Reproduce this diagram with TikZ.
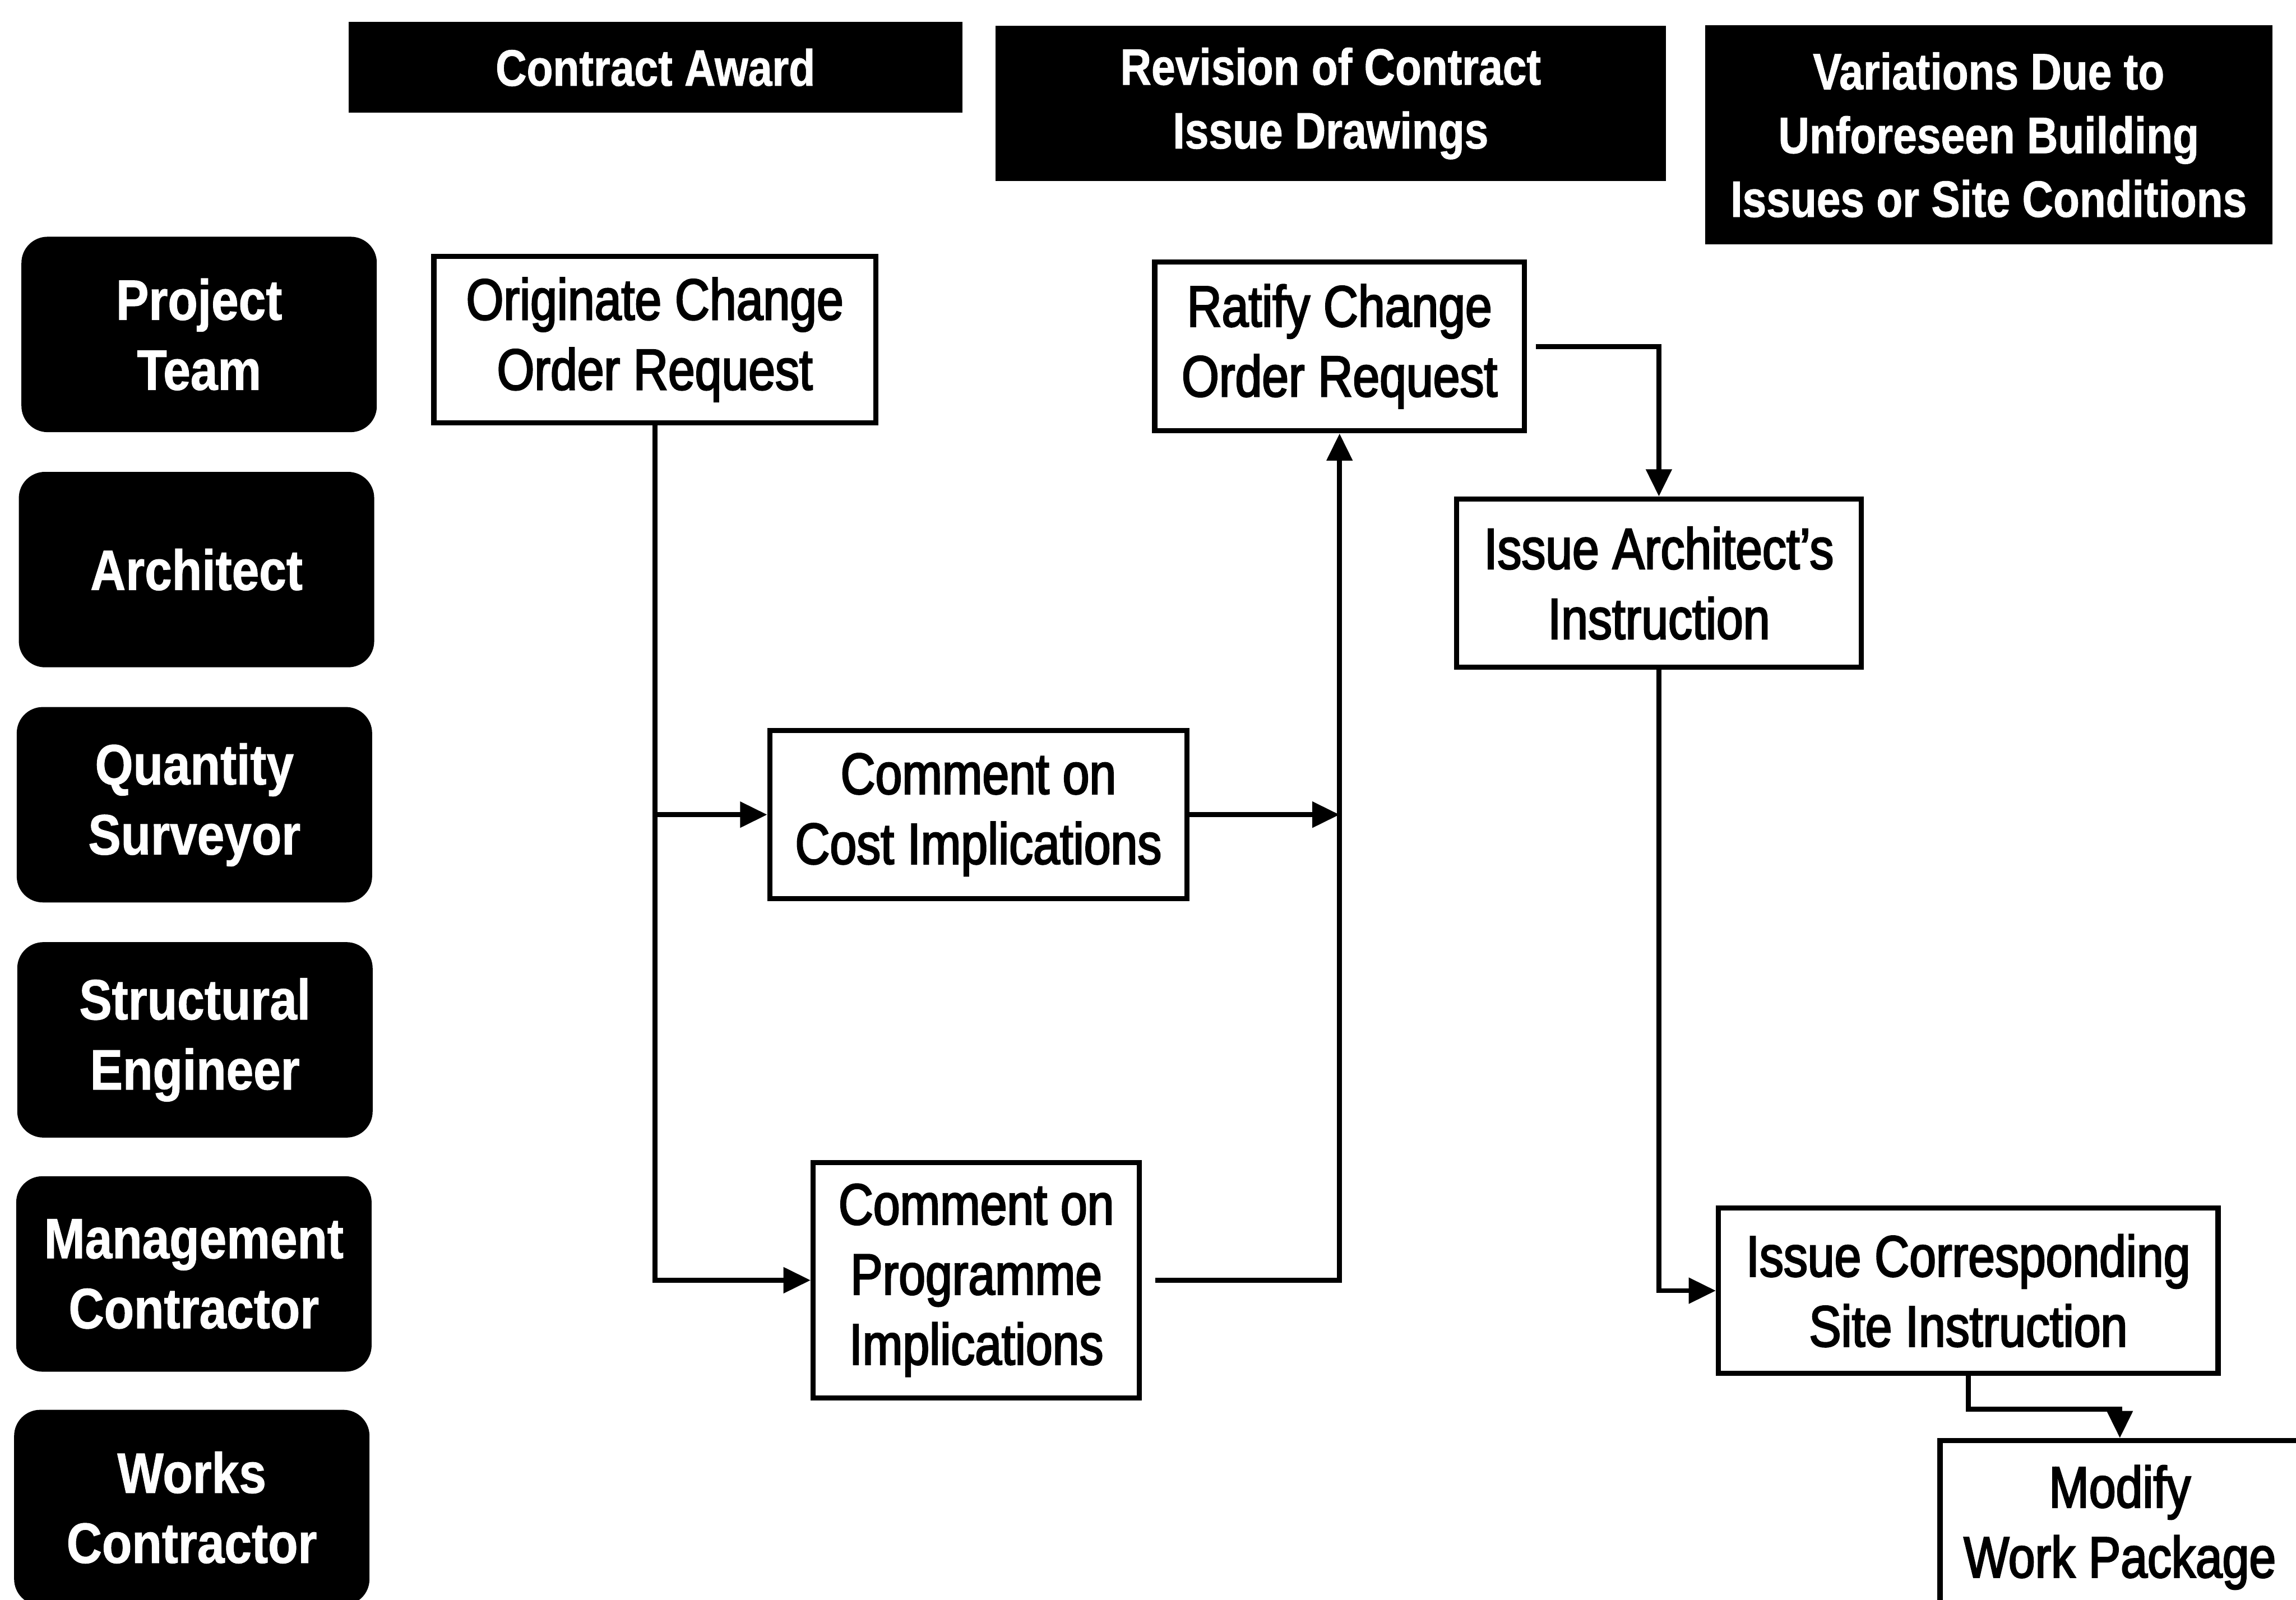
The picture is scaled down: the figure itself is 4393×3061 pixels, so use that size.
\documentclass[tikz,border=0pt]{standalone}
\usepackage{fontspec}
\setmainfont{Liberation Sans}
\newfontface\hdrfont{Liberation Sans Bold}[FakeStretch=0.84,FakeBold=1]
\newfontface\lblfont{Liberation Sans Bold}[FakeStretch=0.86,FakeBold=1]
\newfontface\boxfont{Liberation Sans}[FakeStretch=0.83,FakeBold=2.5]
\usetikzlibrary{arrows.meta}
\begin{document}
\begin{tikzpicture}[x=0.1pt,y=-0.1pt,
 hdr/.style={fill=black,text=white,inner sep=0pt,align=center,font=\hdrfont\fontsize{9.8}{12.2}\selectfont},
 lane/.style={fill=black,text=white,rounded corners=5pt,inner sep=0pt,align=center,minimum width=68pt,minimum height=37.4pt,font=\lblfont\fontsize{10.9}{13.4}\selectfont},
 proc/.style={draw=black,line width=1pt,fill=white,inner sep=0pt,align=center,font=\boxfont\fontsize{11.1}{13.4}\selectfont},
 arr/.style={line width=0.95pt,-{Triangle[length=5.2pt,width=4.8pt]}}]
\path[use as bounding box,fill=white] (0,0) rectangle (4393,3061);

% column headers
\node[hdr,minimum width=117.4pt,minimum height=17.4pt] (h1) at (1254,129) {Contract Award};
\node[hdr,minimum width=128.2pt,minimum height=29.7pt] (h2) at (2546,198) {Revision of Contract\\Issue Drawings};
\node[hdr,minimum width=108.6pt,minimum height=42pt] (h3) at (3805,258) {Variations Due to\\Unforeseen Building\\Issues or Site Conditions};

% lanes
\node[lane] (l1) at (381,640) {Project\\Team};
\node[lane] (l2) at (376,1090) {Architect};
\node[lane] (l3) at (372,1540) {Quantity\\Surveyor};
\node[lane] (l4) at (373,1990) {Structural\\Engineer};
\node[lane] (l5) at (371,2438) {Management\\Contractor};
\node[lane] (l6) at (367,2885) {Works\\Contractor};

% process boxes
\node[proc,minimum width=84.6pt,minimum height=31.9pt] (orig) at (1253,650) {Originate Change\\Order Request};
\node[proc,minimum width=70.7pt,minimum height=32.3pt] (rat) at (2563,663) {Ratify Change\\Order Request};
\node[proc,minimum width=77.4pt,minimum height=32.2pt] (arch) at (3174,1116) {Issue Architect’s\\Instruction};
\node[proc,minimum width=79.8pt,minimum height=32.2pt] (cost) at (1872,1559) {Comment on\\Cost Implications};
\node[proc,minimum width=62.4pt,minimum height=45.1pt] (prog) at (1868,2450) {Comment on\\Programme\\Implications};
\node[proc,minimum width=95.6pt,minimum height=31.6pt] (site) at (3766,2470) {Issue Corresponding\\Site Instruction};
\node[proc,minimum width=68.8pt,minimum height=33.2pt] (mod) at (4056,2923) {Modify\\Work Package};

% connectors
\draw[arr] (orig.south) |- (prog.west);
\draw[arr] (orig.south |- cost.west) -- (cost.west);
\draw[arr] (cost.east) -- (cost.east -| rat.south);
\draw[arr] ([xshift=2.5pt]prog.east) -| (rat.south);
\draw[arr] ([xshift=1.7pt]rat.east) -| (arch.north);
\draw[arr] (arch.south) |- (site.west);
\draw[arr] (site.south) -- ++(0,64) -| (mod.north);
\end{tikzpicture}
\end{document}
